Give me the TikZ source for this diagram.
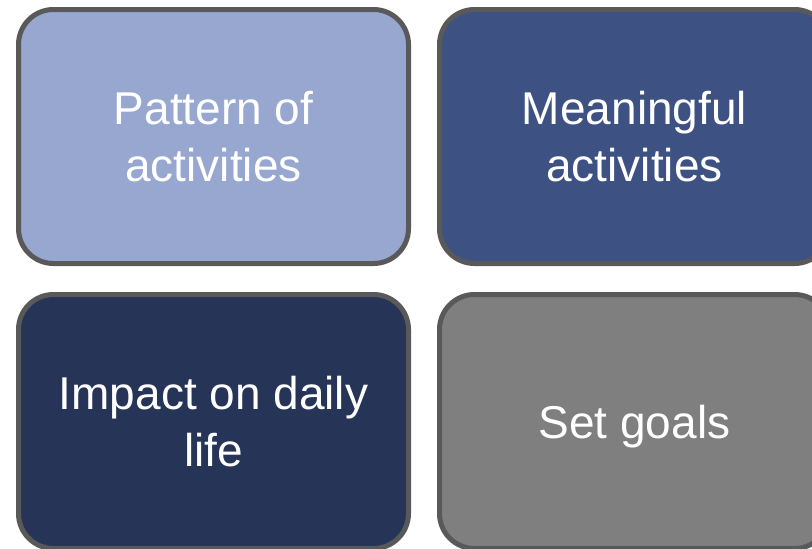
\documentclass[tikz,border=0pt]{standalone}
\usepackage{fontspec}
\setmainfont{Liberation Sans}
\usetikzlibrary{positioning}
\usepackage{xcolor}
\definecolor{tileline}{HTML}{595959}
\definecolor{tilepale}{HTML}{97A7CF}
\definecolor{tileblue}{HTML}{3E5183}
\definecolor{tilenavy}{HTML}{263458}
\definecolor{tilegray}{HTML}{7F7F7F}
\tikzset{tile/.style={draw=tileline, line width=5pt, rounded corners=35pt,
  minimum width=390pt, minimum height=254pt, text=white, align=center,
  text depth=0pt, font=\fontsize{46}{57}\selectfont}}

\begin{document}
\begin{tikzpicture}[x=1pt,y=-1pt]
\def\gap{26pt};
\useasboundingbox (0,0) rectangle (812,549);
\clip (0,0) rectangle (812,549);
\node[tile, fill=tilepale] (pattern) at (213.5,136.5) {Pattern of\\activities};
\node[tile, fill=tileblue, right=\gap of pattern] (meaning) {Meaningful\\activities};
\node[tile, fill=tilenavy, below=\gap of pattern] (impact) {Impact on daily\\life};
\node[tile, fill=tilegray, below=\gap of meaning] (goals) {Set goals};
\end{tikzpicture}
\end{document}
